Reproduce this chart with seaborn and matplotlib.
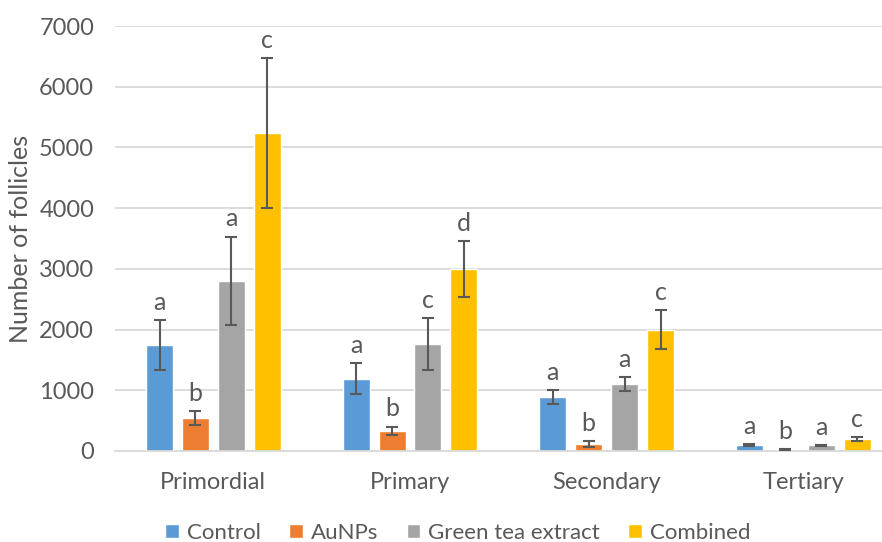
import matplotlib
matplotlib.use("Agg")
import matplotlib.pyplot as plt
import seaborn as sns
import pandas as pd
import numpy as np

categories = ["Primordial", "Primary", "Secondary", "Tertiary"]
groups = ["Control", "AuNPs", "Green tea extract", "Combined"]

control = [1750, 1190, 890, 95]
aunps = [540, 330, 115, 20]
green_tea = [2800, 1760, 1100, 90]
combined = [5240, 3000, 2000, 195]

control_err = [410, 260, 110, 20]
aunps_err = [120, 70, 50, 5]
green_tea_err = [730, 430, 120, 12]
combined_err = [1230, 460, 320, 35]

control_sig = ["a", "a", "a", "a"]
aunps_sig = ["b", "b", "b", "b"]
green_tea_sig = ["a", "c", "a", "a"]
combined_sig = ["c", "d", "c", "c"]

values = [control, aunps, green_tea, combined]
errors = [control_err, aunps_err, green_tea_err, combined_err]
letters = [control_sig, aunps_sig, green_tea_sig, combined_sig]

colors = ["#5B9BD5", "#ED7D31", "#A5A5A5", "#FFC000"]
text_color = "#595959"

rows = []
for g, vals in zip(groups, values):
    for c, v in zip(categories, vals):
        rows.append({"Stage": c, "Group": g, "Count": v})
df = pd.DataFrame(rows)

sns.set_theme(style="white")
plt.rcParams["font.family"] = ["Lato", "DejaVu Sans"]

fig = plt.figure(figsize=(8.82, 5.42), dpi=100)
ax = fig.add_axes([0.1304, 0.168, 0.8696, 0.784])

sns.barplot(data=df, x="Stage", y="Count", hue="Group", order=categories,
            hue_order=groups, palette=colors, width=0.73, gap=0.25,
            errorbar=None, ax=ax, legend=True, saturation=1)

for cont, errs, labs in zip(ax.containers, errors, letters):
    xs = [p.get_x() + p.get_width() / 2 for p in cont.patches]
    hs = [p.get_height() for p in cont.patches]
    ax.errorbar(xs, hs, yerr=errs, fmt="none", ecolor="#595959",
                elinewidth=1.5, capsize=4.5, capthick=1.5, zorder=5)
    for x, h, e, lab in zip(xs, hs, errs, labs):
        ax.annotate(lab, (x, h + e), xytext=(0, 4.5), textcoords="offset points",
                    ha="center", va="bottom", fontsize=18, color=text_color)

ax.set_ylim(0, 7000)
ax.set_xlim(-0.5, 3.40)
ax.set_yticks(np.arange(0, 7001, 1000))
ax.yaxis.grid(True, color="#D9D9D9", linewidth=1.3)
ax.set_axisbelow(True)
for s in ["top", "right", "left"]:
    ax.spines[s].set_visible(False)
ax.spines["bottom"].set_color("#D9D9D9")
ax.spines["bottom"].set_linewidth(1.3)
ax.tick_params(axis="y", length=0, pad=15, labelsize=17, labelcolor=text_color)
ax.tick_params(axis="x", length=0, pad=15, labelsize=17, labelcolor=text_color)
ax.set_xlabel("")
ax.set_ylabel("Number of follicles", fontsize=18, color=text_color, labelpad=5)

handles, labels = ax.get_legend_handles_labels()
ax.legend_.remove()
fig.legend(handles, labels, loc="center", bbox_to_anchor=(0.519, 0.017),
           ncol=4, frameon=False, fontsize=16, handlelength=0.6, handleheight=0.6,
           handletextpad=0.35, columnspacing=1.3, labelcolor=text_color,
           borderaxespad=0, borderpad=0)

fig.savefig("out.png", dpi=100)
